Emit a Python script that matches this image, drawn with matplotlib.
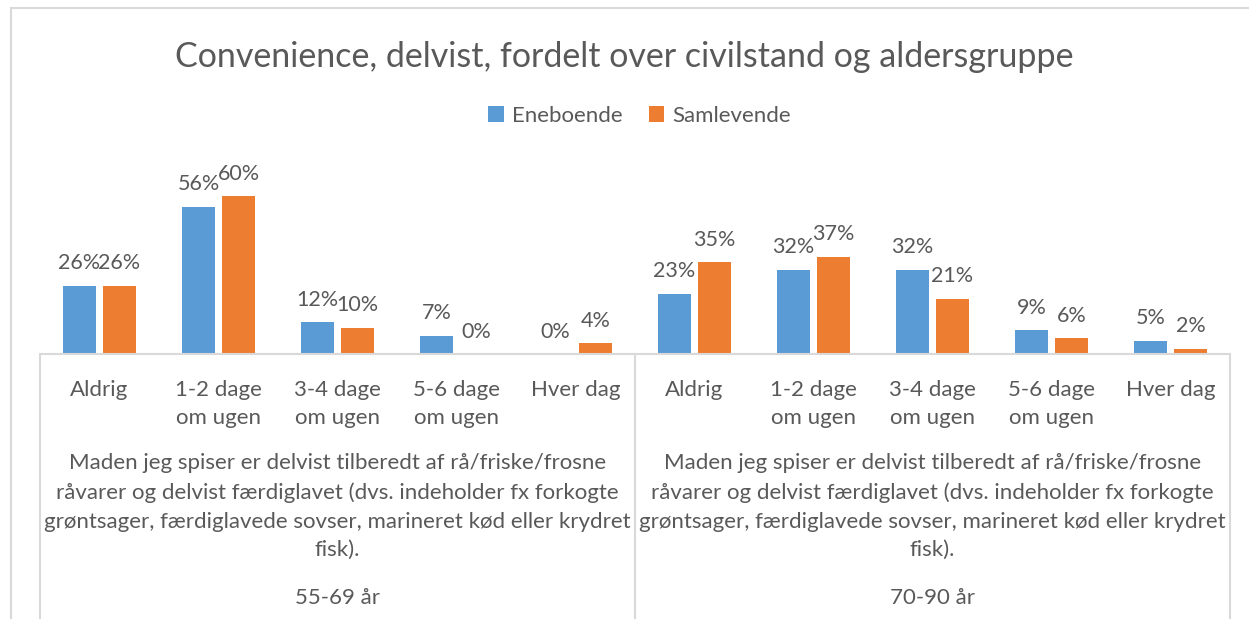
# Convenience, delvist - clustered bars with a two-level category axis (Excel style)

import numpy as np
import matplotlib.pyplot as plt
from matplotlib.patches import Rectangle
from matplotlib.lines import Line2D

plt.rcParams['font.family'] = ['Lato', 'DejaVu Sans']

# data
categories = ['Aldrig', '1-2 dage\nom ugen', '3-4 dage\nom ugen', '5-6 dage\nom ugen', 'Hver dag']
age_groups = ['55-69 år', '70-90 år']
question = ('Maden jeg spiser er delvist tilberedt af rå/friske/frosne\n'
            'råvarer og delvist færdiglavet (dvs. indeholder fx forkogte\n'
            'grøntsager, færdiglavede sovser, marineret kød eller krydret\n'
            'fisk).')
eneboende = [0.26, 0.56, 0.12, 0.07, 0.00, 0.23, 0.32, 0.32, 0.09, 0.05]
samlevende = [0.26, 0.60, 0.10, 0.00, 0.04, 0.35, 0.37, 0.21, 0.06, 0.02]

blue = '#5B9BD5'
orange = '#ED7D31'
text_col = '#595959'
line_col = '#D9D9D9'

W, H = 1249, 619
fig = plt.figure(figsize=(W / 100, H / 100), dpi=100)

def fx(px):
    return px / W

def fy(px):
    return 1 - px / H

# outer chart border
fig.patches.append(Rectangle((fx(11), fy(640)), fx(1260) - fx(11), fy(8) - fy(640),
                             transform=fig.transFigure, fill=False,
                             edgecolor=line_col, lw=1.5))

ax_left, ax_right = 40, 1230
base_y, top_y = 354, 170
ax = fig.add_axes([fx(ax_left), fy(base_y), fx(ax_right) - fx(ax_left), fy(top_y) - fy(base_y)])

x = np.arange(len(eneboende))
w = 0.27
off = 0.168
b1 = ax.bar(x - off, eneboende, w, color=blue, label='Eneboende')
b2 = ax.bar(x + off, samlevende, w, color=orange, label='Samlevende')
for bars in (b1, b2):
    ax.bar_label(bars, labels=[f'{v:.0%}' for v in bars.datavalues], padding=9,
                 fontsize=15.5, color=text_col)

ax.set_xlim(-0.5, len(x) - 0.5)
ax.set_ylim(0, 0.7)
ax.axis('off')

# category axis table
fig.add_artist(Line2D([fx(ax_left), fx(ax_right)], [fy(base_y), fy(base_y)],
                      transform=fig.transFigure, color=line_col, lw=1.5))
for xp in (ax_left, (ax_left + ax_right) / 2, ax_right):
    fig.add_artist(Line2D([fx(xp), fx(xp)], [fy(base_y), fy(640)],
                          transform=fig.transFigure, color=line_col, lw=1.5))

trans = ax.get_xaxis_transform()
def ay(px):
    return (base_y - px) / (base_y - top_y)

for i in range(len(x)):
    ax.text(i, ay(380), categories[i % 5], ha='center', va='top', fontsize=16,
            color=text_col, linespacing=1.48, transform=trans, clip_on=False)
for g, label in enumerate(age_groups):
    cx = 2 + 5 * g
    ax.text(cx, ay(453), question, ha='center', va='top', fontsize=16,
            color=text_col, linespacing=1.55, transform=trans, clip_on=False)
    ax.text(cx, ay(598), label, ha='center', va='center', fontsize=16,
            color=text_col, transform=trans, clip_on=False)

fig.text(0.5, fy(57), 'Convenience, delvist, fordelt over civilstand og aldersgruppe',
         ha='center', va='center', fontsize=24.5, color=text_col)
fig.legend(handles=[b1, b2], loc='center', bbox_to_anchor=(0.512, fy(116)), ncol=2,
           frameon=False, fontsize=16, labelcolor=text_col, handlelength=0.7,
           handleheight=0.7, handletextpad=0.35, columnspacing=1.2)

fig.savefig('out.png', dpi=100, facecolor='white')
